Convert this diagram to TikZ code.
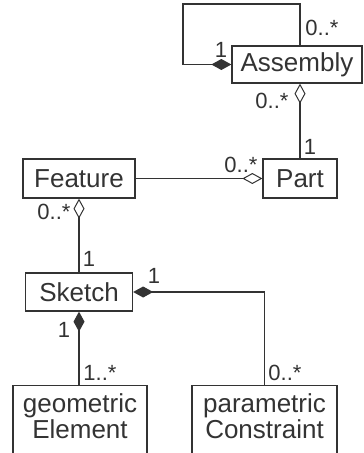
\documentclass[tikz,border=0pt]{standalone}
\usepackage{fontspec}
\setmainfont{Liberation Sans}
\usetikzlibrary{arrows.meta}
\definecolor{ink}{HTML}{333333}
\begin{document}
\begin{tikzpicture}[x=1pt,y=-1pt,
  cls/.style={draw=ink, line width=1.3pt, text=ink, inner sep=0pt, font=\fontsize{26}{29}\selectfont},
  mult/.style={text=ink, inner sep=0pt, font=\fontsize{22}{24}\selectfont},
  conn/.style={draw=ink, line width=1.3pt},
  agg/.style={{Diamond[open,length=20pt,width=11pt,line width=1pt]}-},
  comp/.style={{Diamond[length=20pt,width=11pt]}-}]
\useasboundingbox (0,0) rectangle (364,453);
\clip (0,0) rectangle (364,453);
\node[cls, minimum width=130pt, minimum height=37pt] (asm) at (297,64.5) {Assembly};
\node[cls, minimum width=74pt, minimum height=39pt] (part) at (300,178.5) {Part};
\node[cls, minimum width=112pt, minimum height=39pt] (feat) at (79,178.5) {Feature};
\node[cls, minimum width=107pt, minimum height=38pt] (sketch) at (79,292) {Sketch};
\node[cls, minimum width=134pt, minimum height=80pt, anchor=north,
  label={[text=ink, anchor=north, align=center, inner sep=0pt, yshift=-8pt, font=\fontsize{26}{26}\selectfont]north:geometric\\Element}] (geo) at (80,385) {};
\node[cls, minimum width=145pt, minimum height=80pt, anchor=north,
  label={[text=ink, anchor=north, align=center, inner sep=0pt, yshift=-8pt, font=\fontsize{26}{26}\selectfont]north:parametric\\Constraint}] (par) at (264.5,385) {};
\coordinate (lt) at (183,4);
\coordinate (bend) at (264.5,292);
% connectors
\draw[conn, comp] (asm.west) -| (lt) -| ([xshift=3pt]asm.north);
\draw[conn, agg] (asm.south -| part.north) -- (part.north);
\draw[conn, agg] (part.west) -- (feat.east);
\draw[conn, agg] (feat.south) -- (sketch.north);
\draw[conn, comp] (sketch.east) -- (bend) -- (par.north);
\draw[conn, comp] (sketch.south) -- (sketch.south |- geo.north);
% multiplicities
\node[mult] (m1) at (221,50) {1};
\node[mult] (m2) at (322,28) {0..*};
\node[mult] (m3) at (272,101) {0..*};
\node[mult] (m4) at (310,147) {1};
\node[mult] (m5) at (241,165) {0..*};
\node[mult] (m6) at (54,212) {0..*};
\node[mult] (m7) at (89,259) {1};
\node[mult] (m8) at (154,276) {1};
\node[mult] (m9) at (64,330) {1};
\node[mult] (m10) at (100,373) {1..*};
\node[mult] (m11) at (285,373) {0..*};
\end{tikzpicture}
\end{document}
